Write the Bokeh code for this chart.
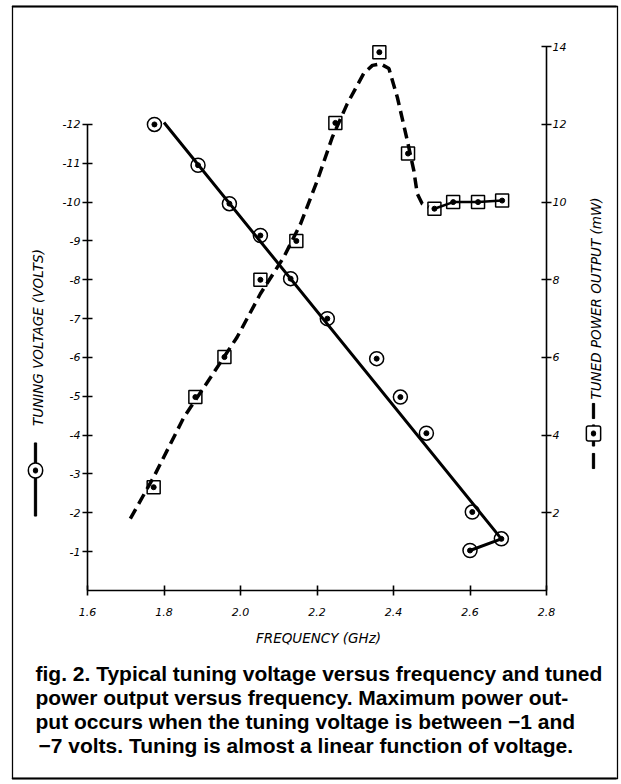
import math
from bokeh.plotting import figure
from bokeh.models import (Range1d, LinearAxis, FixedTicker, Label, NumeralTickFormatter)
from bokeh.embed import file_html
from bokeh.resources import INLINE

# ---------------- data ----------------
# tuning voltage measurements (circles)
tune_freq_ghz = [1.775, 1.889, 1.971, 2.052, 2.131, 2.227, 2.356, 2.418, 2.486, 2.606, 2.682, 2.600]
tune_volts = [-12.0, -10.95, -9.96, -9.14, -8.03, -7.0, -5.97, -4.98, -4.05, -2.02, -1.33, -1.03]
# hand-drawn straight fit through the tuning points
tune_fit_freq = [1.800, 2.682, 2.600]
tune_fit_volts = [-12.05, -1.33, -1.03]

# tuned power output measurements (squares)
power_freq_ghz = [1.773, 1.882, 1.958, 2.052, 2.146, 2.248, 2.363, 2.438, 2.507, 2.556, 2.621, 2.684]
power_mw = [2.66, 4.98, 6.01, 8.0, 9.0, 12.04, 13.86, 11.25, 9.83, 10.0, 10.0, 10.04]
# hand-drawn dashed curve through the power points
power_curve_freq = [1.712, 1.773, 1.852, 1.922, 1.991, 2.052, 2.113, 2.157, 2.201, 2.240,
                    2.279, 2.322, 2.345, 2.366, 2.388, 2.410, 2.436, 2.453, 2.462, 2.475, 2.492]
power_curve_mw = [1.85, 2.92, 4.46, 5.49, 6.52, 7.64, 8.58, 9.44, 10.56, 11.67,
                  12.53, 13.31, 13.52, 13.56, 13.44, 12.70, 11.59, 10.82, 10.22, 9.96, 9.87]

freq_ticks = [1.6, 1.8, 2.0, 2.2, 2.4, 2.6, 2.8]
volt_ticks = [-12, -11, -10, -9, -8, -7, -6, -5, -4, -3, -2, -1]
volt_labels = ["-12", "-11", "-10", "-9", "-8", "-7", "-6", "-5", "-4", "-3", "-2", "-1"]
power_ticks = [2, 4, 6, 8, 10, 12, 14]

x_title = "FREQUENCY (GHz)"
left_title = "TUNING VOLTAGE (VOLTS)"
right_title = "TUNED POWER OUTPUT (mW)"
caption_lines = [
    "fig. 2. Typical tuning voltage versus frequency and tuned",
    "power output versus frequency. Maximum power out-",
    "put occurs when the tuning voltage is between  \u22121 and",
    "\u22127 volts. Tuning is almost a linear function of voltage.",
]

# ---------------- figure ----------------
W, H = 620, 782
TOP = 14.29
p = figure(width=W, height=H, output_backend="svg", toolbar_location=None,
           x_range=Range1d(1.6, 2.8), y_range=Range1d(0, TOP),
           x_axis_location=None, y_axis_location=None,
           min_border_left=87, min_border_right=W - 546, min_border_top=35,
           min_border_bottom=H - 590)
p.extra_y_ranges = {"volts": Range1d(0, -TOP)}
p.outline_line_color = None
p.background_fill_color = "white"
p.border_fill_color = "white"
p.grid.visible = False

TICK_FONT = "DejaVu Sans"


def style_axis(ax, standoff):
    ax.axis_line_color = "black"
    ax.axis_line_width = 1.6
    ax.major_tick_line_color = "black"
    ax.major_tick_line_width = 1.6
    ax.major_tick_in = 5
    ax.major_tick_out = 5
    ax.minor_tick_line_color = None
    ax.major_label_text_font = TICK_FONT
    ax.major_label_text_font_style = "italic"
    ax.major_label_text_font_size = "11px"
    ax.major_label_text_color = "black"
    ax.major_label_standoff = standoff


xaxis = LinearAxis(ticker=FixedTicker(ticks=freq_ticks), formatter=NumeralTickFormatter(format="0.0"),
                   bounds=(1.6, 2.8))
style_axis(xaxis, 12)
p.add_layout(xaxis, "below")

laxis = LinearAxis(y_range_name="volts", ticker=FixedTicker(ticks=volt_ticks), bounds=(-12, 0),
                   major_label_overrides=dict(zip(volt_ticks, volt_labels)))
style_axis(laxis, 2)
p.add_layout(laxis, "left")

raxis = LinearAxis(ticker=FixedTicker(ticks=power_ticks), bounds=(0, 14))
style_axis(raxis, 1)
p.add_layout(raxis, "right")

# ---------------- data marks ----------------
p.line(tune_fit_freq, tune_fit_volts, y_range_name="volts", line_color="black", line_width=3)
p.scatter(tune_freq_ghz, tune_volts, y_range_name="volts", marker="circle", size=14,
          fill_color=None, line_color="black", line_width=1.5)
p.scatter(tune_freq_ghz, tune_volts, y_range_name="volts", marker="circle", size=5,
          fill_color="black", line_color="black")

p.line(power_curve_freq, power_curve_mw, line_color="black", line_width=3.5, line_dash="11 6")
p.line(power_freq_ghz[8:], power_mw[8:], line_color="black", line_width=2.5)
p.scatter(power_freq_ghz, power_mw, marker="square", size=13,
          fill_color=None, line_color="black", line_width=1.5)
p.scatter(power_freq_ghz, power_mw, marker="circle", size=5, fill_color="black", line_color="black")


# ---------------- drawn boxes (empty labels with background, in side panels) ----------------
def lbox(x, y, side, h, v, fill="black", line=None, lw=1.0, radius=0):
    p.add_layout(Label(x=x, y=y, x_units="canvas", y_units="canvas", text=" ",
                       text_font_size="1px", text_align="center", text_baseline="middle",
                       padding=dict(left=h, right=h, top=v, bottom=v), border_radius=radius,
                       background_fill_color=fill, background_fill_alpha=1.0,
                       border_line_color=line, border_line_width=lw), side)


# outer frame (four edges)
lbox(314, 6, "above", 302, 0, line="black")
lbox(314, 778, "below", 302, 0, line="black")
lbox(12, 392, "left", 0, 386, line="black")
lbox(617, 392, "right", 0, 386, line="black")

# left legend: solid line with circle
lbox(35, 479, "left", 1, 36, line="black")
lbox(35, 470, "left", 7, 7, fill="white", line="black", lw=1.5, radius=7)
lbox(35, 470, "left", 2, 2, line="black", radius=2)

# right legend: dashed line with square
for yc, half in [(410.5, 7), (435, 10), (460.5, 7)]:
    lbox(593, yc, "right", 1, half, line="black")
lbox(593, 433, "right", 7, 7, fill="white", line="black", lw=1.5, radius=2)
lbox(593, 433, "right", 2, 2, line="black", radius=2)

# ---------------- texts ----------------
TITLE_FONT = "DejaVu Sans"
for txt, x, y, ang, side in [(left_title, 37, 337, math.pi / 2, "left"),
                             (right_title, 595, 298, math.pi / 2, "right"),
                             (x_title, 318, 637, 0.0, "below")]:
    p.add_layout(Label(x=x, y=y, x_units="canvas", y_units="canvas", text=txt, angle=ang,
                       text_align="center", text_baseline="middle", text_font=TITLE_FONT,
                       text_font_style="italic", text_font_size="13.5px", text_color="black"), side)

cap_x = [35, 35, 35, 38]
cap_y = [673, 697, 721, 745]
for txt, x, y in zip(caption_lines, cap_x, cap_y):
    p.add_layout(Label(x=x, y=y, x_units="canvas", y_units="canvas", text=txt,
                       text_align="left", text_baseline="alphabetic", text_font="Liberation Sans",
                       text_font_style="bold", text_font_size="21px", text_color="black"), "below")

open("out.html", "w").write(file_html(p, INLINE))
